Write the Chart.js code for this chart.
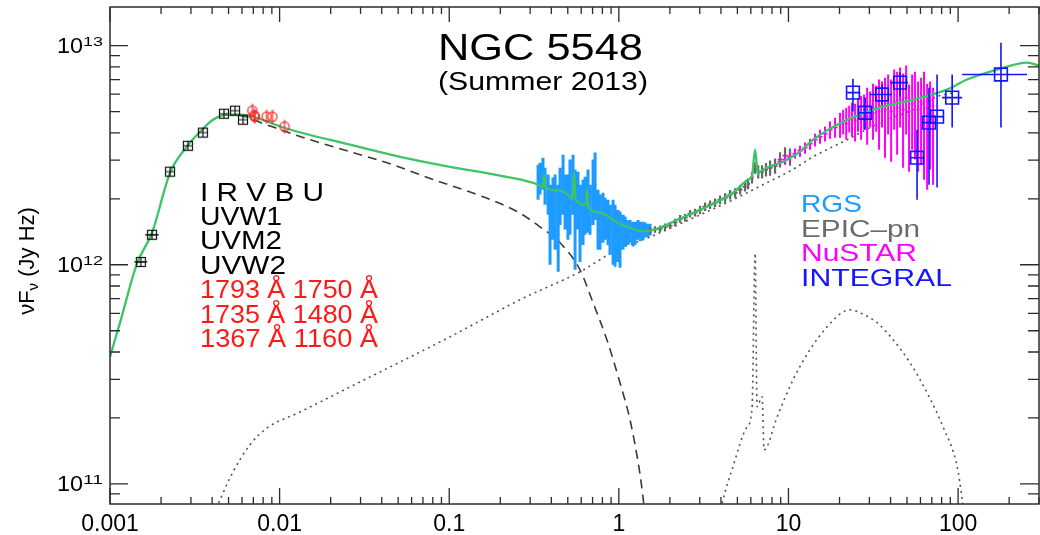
<!DOCTYPE html>
<html><head><meta charset="utf-8">
<script src="https://cdn.jsdelivr.net/npm/chart.js@4.4.0/dist/chart.umd.min.js"></script>
<style>html,body{margin:0;padding:0;background:#fff;}#wrap{width:1040px;height:535px;}</style>
</head><body><div id="wrap"><canvas id="c" width="1040" height="535"></canvas></div>
<script>
// ---------- axis ticks ----------
const xTickValues = [0.001, 0.01, 0.1, 1, 10, 100];
const xTickLabels = ['0.001', '0.01', '0.1', '1', '10', '100'];
const yTickValues = [1e11, 1e12, 1e13];
const yTickBase = ['10', '10', '10'];
const yTickExp = ['11', '12', '13'];
const xMin = 0.001, xMax = 300, yMin = 8.1e10, yMax = 1.5e13;

// ---------- optical / UV photometry ----------
const optE   = [0.00152, 0.00177, 0.00226, 0.00288, 0.00353, 0.0047, 0.00546, 0.00608];
const optF   = [1.03e12, 1.37e12, 2.66e12, 3.49e12, 4.01e12, 4.89e12, 5.05e12, 4.59e12];
const optELo = [0.00139, 0.00161, 0.00226, 0.00288, 0.00353, 0.0047, 0.00546, 0.00608];
const optEHi = [0.00166, 0.00194, 0.00226, 0.00288, 0.00353, 0.0047, 0.00546, 0.00608];
const uvE = [0.00691, 0.00708, 0.00715, 0.00838, 0.00907, 0.01069];
const uvF = [5.05e12, 4.80e12, 4.74e12, 4.74e12, 4.74e12, 4.27e12];

// ---------- RGS ----------
const rgsE = [0.334,0.343,0.357,0.367,0.383,0.393,0.409,0.421,0.439,0.450,0.469,0.482,0.501,0.515,0.537,0.552,0.574,0.590,0.615,0.632,0.658,0.676,0.705,0.724,0.754,0.774,0.807,0.830,0.863,0.887,0.925,0.950,0.989,1.016,1.059,1.088,1.133,1.164,1.213,1.246,1.298,1.334,1.390,1.428,1.486,1.528];
const rgsF = [2.37e12,2.50e12,2.72e12,2.32e12,2.09e12,1.69e12,1.78e12,1.98e12,1.78e12,2.09e12,2.32e12,1.98e12,1.88e12,2.20e12,2.37e12,1.98e12,2.09e12,1.69e12,1.78e12,1.88e12,1.98e12,1.78e12,2.09e12,2.32e12,1.69e12,1.60e12,1.69e12,1.64e12,1.57e12,1.52e12,1.60e12,1.48e12,1.42e12,1.37e12,1.45e12,1.42e12,1.40e12,1.45e12,1.39e12,1.42e12,1.45e12,1.40e12,1.42e12,1.45e12,1.42e12,1.45e12];
const rgsHi = [2.86e12,2.92e12,3.08e12,2.77e12,2.58e12,2.32e12,2.50e12,2.58e12,2.32e12,2.77e12,3.18e12,2.58e12,2.58e12,3.02e12,3.18e12,2.72e12,2.66e12,2.32e12,2.44e12,2.52e12,2.72e12,2.32e12,3.02e12,3.25e12,2.20e12,2.09e12,2.13e12,2.02e12,1.98e12,1.88e12,1.98e12,1.88e12,1.78e12,1.75e12,1.69e12,1.66e12,1.60e12,1.60e12,1.57e12,1.57e12,1.60e12,1.57e12,1.57e12,1.56e12,1.54e12,1.54e12];
const rgsLo = [1.98e12,2.09e12,2.20e12,1.88e12,1.69e12,1.00e12,1.30e12,1.17e12,0.929e12,1.52e12,1.69e12,1.45e12,1.30e12,1.37e12,1.69e12,0.948e12,1.45e12,1.03e12,1.23e12,1.37e12,1.40e12,1.37e12,1.52e12,1.60e12,1.17e12,1.17e12,1.26e12,1.30e12,1.23e12,1.11e12,1.00e12,0.98e12,1.03e12,0.969e12,1.17e12,1.21e12,1.23e12,1.26e12,1.21e12,1.23e12,1.30e12,1.28e12,1.30e12,1.33e12,1.34e12,1.36e12];

// ---------- EPIC-pn ----------
const epicE = [1.528,1.634,1.749,1.872,2.004,2.144,2.296,2.457,2.630,2.814,3.012,3.224,3.451,3.694,3.953,4.231,4.529,4.847,5.188,5.553,5.784,6.101,6.359,6.629,6.989,7.370,7.792,8.337,8.919,9.544,10.21];
const epicF = [1.43e12,1.45e12,1.46e12,1.49e12,1.51e12,1.56e12,1.62e12,1.64e12,1.71e12,1.73e12,1.78e12,1.84e12,1.88e12,1.92e12,1.98e12,2.02e12,2.09e12,2.13e12,2.20e12,2.27e12,2.34e12,2.50e12,2.77e12,2.66e12,2.66e12,2.72e12,2.77e12,2.83e12,3.02e12,3.15e12,3.11e12];
const epicErr = [0.035,0.035,0.035,0.035,0.035,0.04,0.04,0.04,0.04,0.04,0.045,0.045,0.045,0.045,0.045,0.05,0.05,0.05,0.05,0.05,0.055,0.06,0.06,0.07,0.07,0.07,0.08,0.08,0.08,0.09,0.09];

// ---------- NuSTAR ----------
const nuE  = [8.919,9.544,10.21,10.93,11.70,12.52,13.40,14.34,15.35,16.43,17.58,18.82,
              20.14,21.0,21.9,22.8,23.7,24.7,25.7,26.8,27.9,29.1,30.3,31.5,32.9,34.2,35.6,37.1,38.7,40.3,42.0,43.7,45.5,47.4,49.4,51.4,53.6,55.7,58.1,60.5,63.0,65.7,68.4,71.2];
const nuF  = [2.95e12,3.02e12,3.11e12,3.21e12,3.32e12,3.42e12,3.57e12,3.72e12,3.84e12,3.96e12,4.13e12,4.23e12,
              4.36e12,4.50e12,4.41e12,4.59e12,4.64e12,4.55e12,4.79e12,4.69e12,4.89e12,4.74e12,5.05e12,4.94e12,5.21e12,5.00e12,5.32e12,5.10e12,5.43e12,5.00e12,5.55e12,5.21e12,5.66e12,5.10e12,5.80e12,5.00e12,5.43e12,5.66e12,5.10e12,5.55e12,5.91e12,5.21e12,5.66e12,5.32e12];
const nuHi = [3.08e12,3.18e12,3.28e12,3.39e12,3.49e12,3.61e12,3.76e12,3.96e12,4.13e12,4.27e12,4.50e12,4.69e12,
              4.94e12,5.10e12,5.21e12,5.32e12,5.49e12,5.43e12,5.73e12,5.91e12,5.98e12,6.43e12,6.17e12,6.70e12,6.57e12,7.00e12,6.86e12,7.14e12,7.38e12,7.00e12,7.77e12,7.60e12,7.94e12,7.45e12,8.11e12,6.64e12,7.38e12,7.60e12,6.86e12,7.14e12,7.60e12,6.70e12,6.86e12,6.43e12];
const nuLo = [2.83e12,2.86e12,2.95e12,3.05e12,3.11e12,3.21e12,3.35e12,3.46e12,3.57e12,3.65e12,3.76e12,3.80e12,
              3.80e12,3.93e12,3.72e12,4.01e12,3.84e12,3.65e12,4.05e12,3.72e12,4.13e12,3.53e12,4.23e12,3.72e12,4.05e12,3.35e12,4.23e12,3.08e12,3.93e12,2.95e12,4.13e12,3.18e12,4.23e12,2.77e12,3.93e12,2.66e12,3.35e12,3.02e12,2.66e12,2.86e12,2.44e12,2.20e12,2.72e12,2.32e12];

// ---------- INTEGRAL ----------
const intE   = [24.0, 28.3, 35.6, 45.5, 57.3, 67.4, 75.2, 92.3, 179];
const intF   = [6.10e12, 4.94e12, 5.98e12, 6.78e12, 3.08e12, 4.45e12, 4.74e12, 5.79e12, 7.38e12];
const intHi  = [7.06e12, 5.79e12, 6.64e12, 7.53e12, 4.13e12, 6.43e12, 7.38e12, 7.38e12, 1.03e13];
const intLo  = [5.00e12, 4.13e12, 5.38e12, 5.85e12, 1.98e12, 2.32e12, 2.25e12, 4.23e12, 4.23e12];
const intELo = [22.2, 25.7, 30.3, 39.7, 52.1, 61.4, 68.4, 80.5, 105.7];
const intEHi = [26.5, 31.1, 40.8, 50.7, 62.2, 73.1, 81.6, 105.7, 255];

// ---------- model curves ----------
const modelE = [0.001,0.00115,0.00144,0.00177,0.00226,0.00284,0.0034,0.00405,0.0049,0.00585,0.00697,0.0105,0.026,0.0513,0.101,0.1995,0.343,0.355,0.362,0.369,0.45,0.50,0.535,0.545,0.556,0.64,0.649,0.66,0.774,0.975,1.21,1.39,1.68,2.20,3.01,4.71,5.78,6.10,6.36,6.60,6.81,9.29,11.7,13.96,22.2,34.7,54.3,86.1,113,170,255,300];
const modelF = [3.80e11,5.50e11,1.01e12,1.40e12,2.63e12,3.46e12,4.05e12,4.59e12,4.84e12,4.84e12,4.74e12,4.23e12,3.53e12,3.11e12,2.80e12,2.55e12,2.30e12,2.26e12,2.58e12,2.24e12,2.18e12,2.09e12,2.00e12,2.67e12,1.98e12,1.88e12,2.20e12,1.84e12,1.73e12,1.56e12,1.46e12,1.42e12,1.46e12,1.60e12,1.78e12,2.13e12,2.45e12,2.55e12,3.35e12,2.58e12,2.66e12,2.95e12,3.28e12,3.72e12,4.59e12,5.21e12,5.67e12,6.30e12,7.00e12,7.77e12,8.36e12,8.10e12];
const diskE = [0.0034,0.00405,0.0049,0.00585,0.00798,0.0151,0.026,0.043,0.0802,0.146,0.251,0.343,0.45,0.59,0.705,0.851,1.016,1.164,1.33,1.43];
const diskF = [4.05e12,4.59e12,4.82e12,4.80e12,4.41e12,3.72e12,3.28e12,2.92e12,2.45e12,2.09e12,1.75e12,1.49e12,1.26e12,9.48e11,6.70e11,4.54e11,2.89e11,1.96e11,1.12e11,7.2e10];
const plE = [0.00394,0.00434,0.00531,0.00669,0.00843,0.0132,0.026,0.101,0.261,0.59,0.975,1.53,3.01,4.71,7.48,10.6,13.96,22.2,34.7,54.3,75.2,95.9];
const plF = [6.9e10,8.1e10,1.135e11,1.51e11,1.80e11,2.13e11,2.77e11,4.69e11,6.92e11,9.29e11,1.17e12,1.34e12,1.69e12,1.98e12,2.37e12,2.72e12,3.11e12,3.72e12,4.45e12,5.10e12,5.85e12,6.10e12];
const reflE = [3.95,4.06,4.71,5.70,6.10,6.36,6.53,6.99,7.18,8.57,10.65,13.4,16.9,21.0,23.1,26.4,33.3,41.4,52.1,65.6,81.6,98.7,105.7,108];
const reflF = [7.2e10,8.1e10,1.20e11,1.82e11,2.22e11,1.13e12,2.25e11,2.50e11,1.43e11,2.02e11,2.99e11,4.10e11,5.21e11,6.10e11,6.23e11,6.04e11,5.44e11,4.55e11,3.57e11,2.61e11,1.82e11,1.20e11,8.46e10,7.2e10];

// ---------- helpers ----------
const FONT = '"Liberation Sans", Arial, Helvetica, sans-serif';
const pts = (xs, ys) => xs.map((x, i) => ({x: x, y: ys[i]}));
function binEdges(E){
  const lo = [], hi = [];
  for (let i = 0; i < E.length; i++){
    const prev = i > 0 ? E[i-1] : E[i]*E[i]/E[i+1];
    const next = i < E.length-1 ? E[i+1] : E[i]*E[i]/E[i-1];
    lo.push(Math.sqrt(prev*E[i])); hi.push(Math.sqrt(E[i]*next));
  }
  return {lo, hi};
}
const rgsBins = binEdges(rgsE), epicBins = binEdges(epicE), nuBins = binEdges(nuE);
const epicLo = epicF.map((f,i)=>f*(1-epicErr[i])), epicHi = epicF.map((f,i)=>f*(1+epicErr[i]));

function marker(w, h, draw){ const c = document.createElement('canvas'); c.width = w; c.height = h; draw(c.getContext('2d')); return c; }
const sqMark = marker(12, 12, g => { g.strokeStyle = '#111'; g.lineWidth = 1.2; g.strokeRect(1.5, 1.5, 9, 9); g.beginPath(); g.moveTo(1.5,6); g.lineTo(10.5,6); g.moveTo(6,1.5); g.lineTo(6,10.5); g.stroke(); });
const circMark = marker(12, 16, g => { g.strokeStyle = '#ff2020'; g.lineWidth = 1.2; g.beginPath(); g.arc(6, 8, 4.6, 0, Math.PI*2); g.stroke(); g.beginPath(); g.moveTo(6,1); g.lineTo(6,15); g.stroke(); });

// ---------- plugins ----------
const errPlugin = {
  id: 'errbars',
  afterDatasetDraw(chart, args){
    const ds = chart.data.datasets[args.index];
    if (!ds.err) return;
    const {ctx, chartArea: a} = chart, xs = chart.scales.x, ys = chart.scales.y;
    ctx.save();
    ctx.beginPath(); ctx.rect(a.left, a.top, a.right - a.left, a.bottom - a.top); ctx.clip();
    ctx.strokeStyle = ds.err.color; ctx.lineCap = 'butt';
    ctx.beginPath(); ctx.lineWidth = ds.err.width;
    ds.data.forEach((p, i) => {
      if (!ds.err.lo) return;
      const px = xs.getPixelForValue(p.x);
      ctx.moveTo(px, ys.getPixelForValue(ds.err.lo[i])); ctx.lineTo(px, ys.getPixelForValue(ds.err.hi[i]));
    });
    ctx.stroke();
    ctx.beginPath(); ctx.lineWidth = ds.err.xwidth || ds.err.width;
    ds.data.forEach((p, i) => {
      if (!ds.err.xlo) return;
      const py = ys.getPixelForValue(p.y);
      ctx.moveTo(xs.getPixelForValue(ds.err.xlo[i]), py); ctx.lineTo(xs.getPixelForValue(ds.err.xhi[i]), py);
    });
    ctx.stroke();
    ctx.restore();
  }
};

const framePlugin = {
  id: 'frame',
  afterDatasetsDraw(chart){
    const {ctx, chartArea: a} = chart, xs = chart.scales.x, ys = chart.scales.y;
    ctx.save();
    ctx.strokeStyle = '#2b2b2b'; ctx.lineWidth = 1.5;
    ctx.strokeRect(a.left, a.top, a.right - a.left, a.bottom - a.top);
    ctx.lineWidth = 1.3; ctx.beginPath();
    for (let d = -3; d <= 2; d++) for (let m = 1; m <= 9; m++){
      const v = m * Math.pow(10, d); if (v < xMin || v > xMax) continue;
      const px = xs.getPixelForValue(v), major = m === 1;
      ctx.moveTo(px, a.bottom); ctx.lineTo(px, a.bottom - (major ? 16 : 7));
      ctx.moveTo(px, a.top); ctx.lineTo(px, a.top + (major ? 15 : 7));
    }
    for (let d = 10; d <= 13; d++) for (let m = 1; m <= 9; m++){
      const v = m * Math.pow(10, d); if (v < yMin || v > yMax) continue;
      const py = ys.getPixelForValue(v), major = m === 1;
      ctx.moveTo(a.left, py); ctx.lineTo(a.left + (major ? 18 : 10), py);
      ctx.moveTo(a.right, py); ctx.lineTo(a.right - (major ? 19 : 11), py);
    }
    ctx.stroke();
    ctx.restore();
  }
};

function fitText(ctx, s, left, base, size, width, color){
  ctx.save();
  ctx.font = size + 'px ' + FONT; ctx.fillStyle = color; ctx.textBaseline = 'alphabetic'; ctx.textAlign = 'left';
  const w = ctx.measureText(s).width;
  ctx.translate(left, base); ctx.scale(width / w, 1);
  ctx.fillText(s, 0, 0);
  ctx.restore();
}
const textPlugin = {
  id: 'texts',
  afterDraw(chart){
    const ctx = chart.ctx, ys = chart.scales.y, a = chart.chartArea;
    // y tick labels 10^n, placed with the y scale
    yTickValues.forEach((v, i) => {
      const py = ys.getPixelForValue(v);
      fitText(ctx, yTickBase[i], a.left - 53, py + 7, 22, 26, '#000');
      fitText(ctx, yTickExp[i], a.left - 27, py, 13, 20, '#000');
    });
    fitText(ctx, 'NGC 5548', 438, 60, 37, 205, '#000');
    fitText(ctx, '(Summer 2013)', 438, 90, 26, 210, '#000');
    const L = [['I R V B U', 124, '#000'], ['UVW1', 82, '#000'], ['UVM2', 82, '#000'], ['UVW2', 86, '#000'],
               ['1793 \u00C5 1750 \u00C5', 178, '#ff1a1a'], ['1735 \u00C5 1480 \u00C5', 178, '#ff1a1a'], ['1367 \u00C5 1160 \u00C5', 178, '#ff1a1a']];
    L.forEach((t, i) => fitText(ctx, t[0], 200, 200.5 + i * 24.4, 26, t[1], t[2]));
    const R = [['RGS', 61, '#1e9bff'], ['EPIC\u2013pn', 119, '#6b6b6b'], ['NuSTAR', 116, '#ff00ff'], ['INTEGRAL', 151, '#1414ff']];
    R.forEach((t, i) => fitText(ctx, t[0], 801, 212 + i * 24.5, 24, t[1], t[2]));
    // y-axis title  νFν (Jy Hz)
    ctx.save();
    ctx.fillStyle = '#000'; ctx.textBaseline = 'alphabetic';
    const f1 = '22px ' + FONT, f2 = '15px ' + FONT;
    ctx.font = f1; const w1 = ctx.measureText('\u03BDF').width, w3 = ctx.measureText(' (Jy Hz)').width;
    ctx.font = f2; const w2 = ctx.measureText('\u03BD').width;
    const tot = w1 + w2 + w3;
    ctx.translate(34, 261); ctx.rotate(-Math.PI / 2);
    let x0 = -tot / 2;
    ctx.font = f1; ctx.fillText('\u03BDF', x0, 0); x0 += w1;
    ctx.font = f2; ctx.fillText('\u03BD', x0, 4); x0 += w2;
    ctx.font = f1; ctx.fillText(' (Jy Hz)', x0, 0);
    ctx.restore();
  }
};

// ---------- chart ----------
const GREEN = '#3cc466';
const lineBase = {pointRadius: 0, fill: false, cubicInterpolationMode: 'monotone', showLine: true};
const noPad = s => { s.paddingTop = 0; s.paddingBottom = 0; s.paddingLeft = 0; s.paddingRight = 0; };
new Chart(document.getElementById('c'), {
  type: 'line',
  data: {
    datasets: [
      {label: 'UV grism', data: pts(uvE, uvF), showLine: false, pointStyle: circMark, pointRadius: 6, order: 0},
      {label: 'Optical/UV', data: pts(optE, optF), showLine: false, pointStyle: sqMark, pointRadius: 6, order: 1,
        err: {xlo: optELo, xhi: optEHi, color: '#111', width: 1.2}},
      {label: 'INTEGRAL', data: pts(intE, intF), showLine: false, pointStyle: 'rect', pointRadius: 9,
        pointBorderColor: '#1414ff', pointBackgroundColor: 'rgba(0,0,0,0)', pointBorderWidth: 1.6, order: 2,
        err: {lo: intLo, hi: intHi, xlo: intELo, xhi: intEHi, color: '#1414ff', width: 1.6}},
      Object.assign({label: 'Model', data: pts(modelE, modelF), borderColor: GREEN, borderWidth: 2.3, order: 3}, lineBase),
      {label: 'NuSTAR', data: pts(nuE, nuF), showLine: false, pointRadius: 0, order: 4,
        err: {lo: nuLo, hi: nuHi, xlo: nuBins.lo, xhi: nuBins.hi, color: '#ff00ff', width: 2.0, xwidth: 1.5}},
      {label: 'EPIC-pn', data: pts(epicE, epicF), showLine: false, pointRadius: 0, order: 5,
        err: {lo: epicLo, hi: epicHi, xlo: epicBins.lo, xhi: epicBins.hi, color: '#666666', width: 2.2, xwidth: 1.8}},
      {label: 'RGS', data: pts(rgsE, rgsF), showLine: false, pointRadius: 0, order: 6,
        err: {lo: rgsLo, hi: rgsHi, xlo: rgsBins.lo, xhi: rgsBins.hi, color: '#1e9bff', width: 3.0, xwidth: 1.6}},
      Object.assign({label: 'Disk', data: pts(diskE, diskF), borderColor: '#3a3a3a', borderWidth: 1.6, borderDash: [9, 6], order: 7}, lineBase),
      Object.assign({label: 'Power law', data: pts(plE, plF), borderColor: '#555', borderWidth: 1.6, borderDash: [2, 4], order: 8}, lineBase),
      Object.assign({label: 'Reflection', data: pts(reflE, reflF), borderColor: '#555', borderWidth: 1.6, borderDash: [2, 4], order: 9}, lineBase)
    ]
  },
  options: {
    responsive: false, animation: false, devicePixelRatio: 1,
    layout: {autoPadding: false, padding: {left: 0, right: 1, top: 7, bottom: 0}},
    plugins: {legend: {display: false}, title: {display: false}, tooltip: {enabled: false}},
    scales: {
      x: {type: 'logarithmic', min: xMin, max: xMax,
          grid: {display: false, drawTicks: false}, border: {display: false},
          afterFit: s => { s.height = 31; noPad(s); },
          afterBuildTicks: s => { s.ticks = xTickValues.map(v => ({value: v})); },
          ticks: {autoSkip: false, maxRotation: 0, padding: 7, color: '#000', font: {family: FONT, size: 23},
                  callback: v => { const i = xTickValues.indexOf(v); return i >= 0 ? xTickLabels[i] : ''; }}},
      y: {type: 'logarithmic', min: yMin, max: yMax,
          grid: {display: false, drawTicks: false}, border: {display: false},
          afterFit: s => { s.width = 110; noPad(s); },
          afterBuildTicks: s => { s.ticks = yTickValues.map(v => ({value: v})); },
          ticks: {display: false}}
    }
  },
  plugins: [errPlugin, framePlugin, textPlugin]
});
</script></body></html>
